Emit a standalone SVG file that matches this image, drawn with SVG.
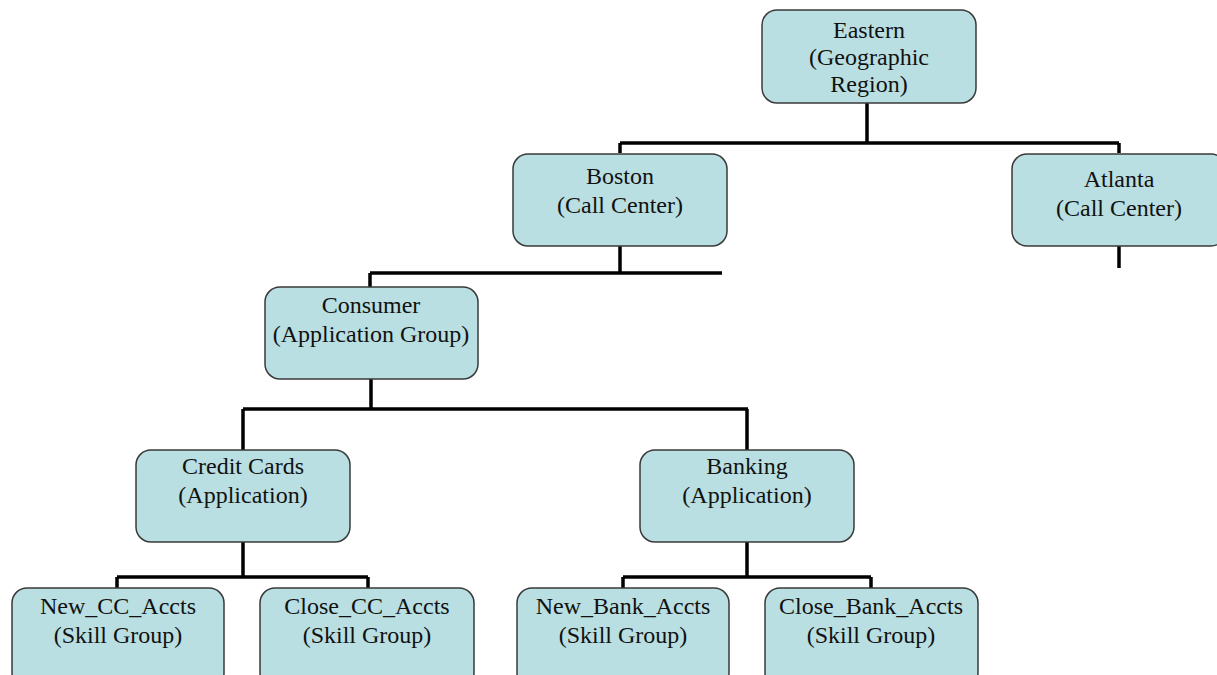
<svg xmlns="http://www.w3.org/2000/svg" width="1217" height="675" viewBox="0 0 1217 675">
<style>
.box{fill:#b9dfe2;stroke:#3a3a3a;stroke-width:1.5}
.t{font-family:"Liberation Serif","Times New Roman",serif;font-size:24px;fill:#111;text-anchor:middle}
.c{fill:none;stroke:#000;stroke-width:3.5}
</style>
<rect width="1217" height="675" fill="#fff"/>
<g id="connectors">
<path class="c" d="M867,103V143M620,143H1119M620,143V153M1119,143V153"/>
<path class="c" d="M620,246V273M370,273H722M370,273V287"/>
<path class="c" d="M1119,246V268"/>
<path class="c" d="M371,379V409M243,409H748M243,409V450M747,409V450"/>
<path class="c" d="M243,542V577M117,577H368M117,577V588M368,577V588"/>
<path class="c" d="M747,542V577M623,577H871M623,577V588M871,577V588"/>
</g>
<g id="eastern"><rect class="box" x="762" y="10" width="214" height="93" rx="15"/>
<text class="t" x="869" y="38">Eastern</text><text class="t" x="869" y="65">(Geographic</text><text class="t" x="869" y="92">Region)</text></g>
<g id="boston"><rect class="box" x="513" y="154" width="214" height="92" rx="15"/>
<text class="t" x="620" y="184">Boston</text><text class="t" x="620" y="213">(Call Center)</text></g>
<g id="atlanta"><rect class="box" x="1012" y="154" width="214" height="92" rx="15"/>
<text class="t" x="1119" y="187">Atlanta</text><text class="t" x="1119" y="216">(Call Center)</text></g>
<g id="consumer"><rect class="box" x="265" y="287" width="213" height="92" rx="15"/>
<text class="t" x="371" y="313">Consumer</text><text class="t" x="371" y="342">(Application Group)</text></g>
<g id="creditcards"><rect class="box" x="136" y="450" width="214" height="92" rx="15"/>
<text class="t" x="243" y="474">Credit Cards</text><text class="t" x="243" y="503">(Application)</text></g>
<g id="banking"><rect class="box" x="640" y="450" width="214" height="92" rx="15"/>
<text class="t" x="747" y="474">Banking</text><text class="t" x="747" y="503">(Application)</text></g>
<g id="newcc"><rect class="box" x="12" y="588" width="212" height="100" rx="15"/>
<text class="t" x="118" y="614">New_CC_Accts</text><text class="t" x="118" y="643">(Skill Group)</text></g>
<g id="closecc"><rect class="box" x="260" y="588" width="214" height="100" rx="15"/>
<text class="t" x="367" y="614">Close_CC_Accts</text><text class="t" x="367" y="643">(Skill Group)</text></g>
<g id="newbank"><rect class="box" x="517" y="588" width="212" height="100" rx="15"/>
<text class="t" x="623" y="614">New_Bank_Accts</text><text class="t" x="623" y="643">(Skill Group)</text></g>
<g id="closebank"><rect class="box" x="765" y="588" width="213" height="100" rx="15"/>
<text class="t" x="871" y="614">Close_Bank_Accts</text><text class="t" x="871" y="643">(Skill Group)</text></g>
</svg>
